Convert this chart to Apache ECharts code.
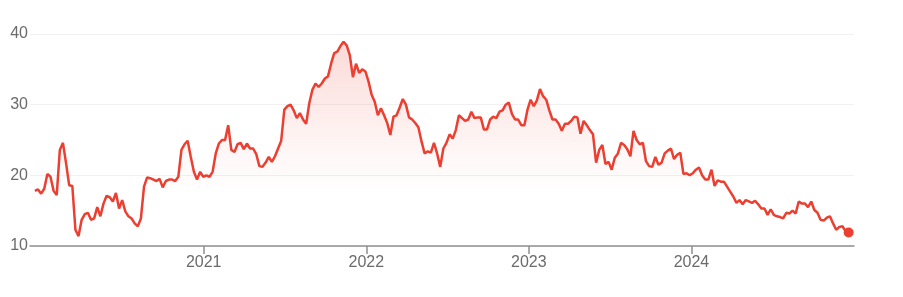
<!DOCTYPE html>
<html>
<head>
<meta charset="utf-8">
<script src="https://cdn.jsdelivr.net/npm/echarts@6/dist/echarts.min.js"></script>
<style>
  html, body { margin: 0; padding: 0; background: #ffffff; }
  #chart { width: 903px; height: 297px; }
</style>
</head>
<body>
<div id="chart"></div>
<script>
// Weekly closing values, first week 2019-12-19
var firstWeek = '2019-12-19';
var closes = [
  17.8, 18.0, 17.4, 18.1, 20.2, 19.8, 17.8, 17.2, 23.6, 24.6,
  21.7, 18.6, 18.5, 12.3, 11.4, 13.7, 14.5, 14.7, 13.7, 13.9,
  15.5, 14.2, 16.0, 17.1, 16.9, 16.3, 17.5, 15.3, 16.5, 14.9,
  14.2, 13.9, 13.2, 12.8, 13.9, 18.4, 19.7, 19.6, 19.4, 19.2,
  19.5, 18.3, 19.2, 19.4, 19.4, 19.2, 19.8, 23.6, 24.4, 24.9,
  22.6, 20.5, 19.4, 20.5, 19.8, 20.0, 19.8, 20.5, 23.1, 24.5,
  25.0, 25.0, 27.1, 23.6, 23.3, 24.4, 24.6, 23.7, 24.5, 23.8,
  23.8, 23.0, 21.3, 21.2, 21.8, 22.6, 21.9, 22.7, 23.8, 24.9,
  29.3, 29.8, 30.0, 29.2,
  28.1, 28.8, 27.9, 27.3, 30.2, 32.1, 33.0, 32.5, 33.0, 33.7,
  34.0, 35.8, 37.3, 37.5, 38.3, 38.9, 38.4, 37.0, 33.9, 35.8,
  34.5, 35.0, 34.7, 33.3, 31.4, 30.4, 28.5, 29.5, 28.5, 27.4,
  25.7, 28.3, 28.5, 29.6, 30.8, 30.0, 28.2, 27.9, 27.4, 26.8,
  24.8, 23.1, 23.4, 23.2, 24.6, 23.1, 21.2, 23.8, 24.6, 25.8,
  25.2, 26.4, 28.5, 28.1, 27.7, 27.9, 29.0, 28.1, 28.2, 28.2,
  26.5, 26.5, 27.9, 28.3, 28.1, 29.0, 29.2, 30.0, 30.3, 28.7,
  27.9, 27.9, 27.1, 27.1, 29.3, 30.7, 29.8, 30.6, 32.2, 31.2,
  30.7, 29.2, 27.9, 27.9, 27.3, 26.3, 27.3, 27.3, 27.7, 28.3,
  28.2, 25.9, 27.7, 27.1, 26.4,
  25.8, 21.8, 23.6, 24.3, 21.6, 21.9, 20.8, 22.5, 23.1, 24.6,
  24.3, 23.7, 22.7, 26.3, 25.0, 24.4, 24.6, 22.0, 21.3, 21.2,
  22.6, 21.5, 21.8, 23.1, 23.5, 23.8, 22.3, 22.9, 23.2, 20.2,
  20.3, 20.0, 20.3, 20.8, 21.1, 20.0, 19.4, 19.4, 20.8, 18.5,
  19.3, 19.1, 19.1, 18.4, 17.7, 17.0, 16.1, 16.5, 15.9, 16.5,
  16.3, 16.1, 16.4, 15.9, 15.3, 15.3, 14.4, 15.2, 14.4, 14.2,
  14.1, 13.9, 14.7, 14.6, 15.0, 14.6, 16.3, 16.0, 16.0, 15.5,
  16.3, 15.1, 14.7, 13.7, 13.6, 14.0, 14.2, 13.2, 12.3, 12.7,
  12.8, 12.1, 11.9
];
var yearTicks = ['2021', '2022', '2023', '2024'];
var yTicks = [10, 20, 30, 40];
var axisStart = '2019-12-08';
var axisEnd = '2024-12-31';

var DAY = 24 * 3600 * 1000;
function ts(s) { return echarts.time.parse(s).getTime(); }
var t0 = ts(firstWeek);
var points = closes.map(function (v, i) { return [t0 + i * 7 * DAY, v]; });
var yearValues = yearTicks.map(function (y) { return ts(y + '-01-01'); });
var last = points[points.length - 1];
var fontFam = 'Arial, "Liberation Sans", sans-serif';

var chart = echarts.init(document.getElementById('chart'), null, { renderer: 'canvas' });
chart.setOption({
  animation: false,
  grid: { left: 30, right: 49, top: 34, bottom: 51, containLabel: false },
  xAxis: {
    type: 'value',
    min: ts(axisStart),
    max: ts(axisEnd),
    axisLine: { show: true, lineStyle: { color: '#8f8f8f', width: 1.5 } },
    axisTick: { show: true, length: 8, lineStyle: { color: '#8f8f8f', width: 1.5 }, customValues: yearValues },
    axisLabel: {
      customValues: yearValues,
      formatter: function (val) { return String(new Date(val).getFullYear()); },
      color: '#6b6b6b', fontSize: 16, fontFamily: fontFam, margin: 9
    },
    splitLine: { show: false }
  },
  yAxis: {
    type: 'value',
    min: yTicks[0], max: yTicks[yTicks.length - 1], interval: 10,
    axisLine: { show: false },
    axisTick: { show: false },
    axisLabel: { color: '#6b6b6b', fontSize: 16, fontFamily: fontFam, margin: 2 },
    splitLine: { show: true, lineStyle: { color: '#f1f1f1', width: 1 } }
  },
  series: [
    {
      type: 'line',
      data: points,
      showSymbol: false,
      symbol: 'none',
      lineStyle: { color: '#ea3f31', width: 2.5 },
      areaStyle: {
        color: new echarts.graphic.LinearGradient(0, 0, 0, 1, [
          { offset: 0, color: 'rgba(234,67,53,0.28)' },
          { offset: 0.55, color: 'rgba(234,67,53,0.06)' },
          { offset: 0.75, color: 'rgba(234,67,53,0.0)' },
          { offset: 1, color: 'rgba(234,67,53,0)' }
        ])
      },
      z: 2
    },
    {
      type: 'scatter',
      data: [last],
      symbol: 'circle',
      symbolSize: 10,
      itemStyle: { color: '#ea3f31', opacity: 1 },
      z: 3
    }
  ]
});
</script>
</body>
</html>
